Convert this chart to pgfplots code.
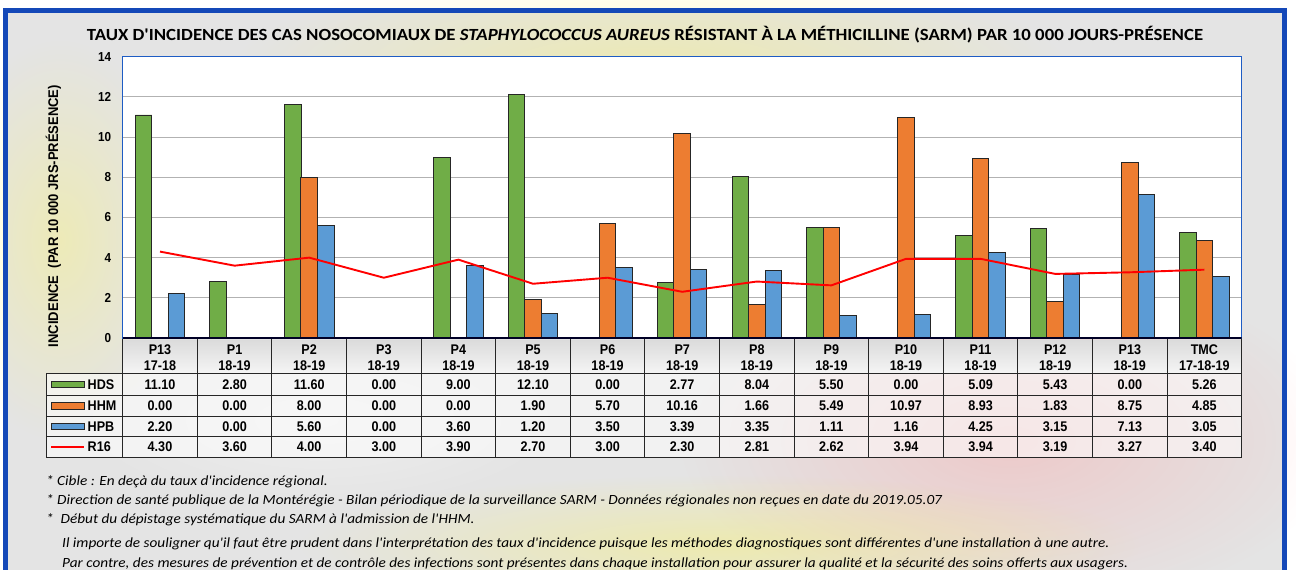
\documentclass[border=0pt]{standalone}
\usepackage{pgfplots}
\pgfplotsset{compat=1.18}
\usepackage{pgfplotstable}
\usepackage{graphicx}
\usepackage{fontspec}
\setmainfont{Liberation Sans}
\newfontfamily\narrow[FakeStretch=0.9]{Liberation Sans}
\newfontfamily\calfont{Carlito}
\newfontfamily\footfont[FakeStretch=1.09]{Carlito}
\usetikzlibrary{fadings}
\tikzfading[name=glow, inner color=transparent!0, outer color=transparent!100]

\definecolor{cgreen}{HTML}{70AD47}
\definecolor{corange}{HTML}{ED7D31}
\definecolor{cblue}{HTML}{5B9BD5}
\definecolor{frameblue}{HTML}{1448B8}
\definecolor{plotblue}{HTML}{1E5CC4}
\definecolor{bgc}{HTML}{E4E4E4}

\pgfplotstableread{
x cat yr HDS HHM HPB R16
0 P13 17-18 11.10 0.00 2.20 4.30
1 P1 18-19 2.80 0.00 0.00 3.60
2 P2 18-19 11.60 8.00 5.60 4.00
3 P3 18-19 0.00 0.00 0.00 3.00
4 P4 18-19 9.00 0.00 3.60 3.90
5 P5 18-19 12.10 1.90 1.20 2.70
6 P6 18-19 0.00 5.70 3.50 3.00
7 P7 18-19 2.77 10.16 3.39 2.30
8 P8 18-19 8.04 1.66 3.35 2.81
9 P9 18-19 5.50 5.49 1.11 2.62
10 P10 18-19 0.00 10.97 1.16 3.94
11 P11 18-19 5.09 8.93 4.25 3.94
12 P12 18-19 5.43 1.83 3.15 3.19
13 P13 18-19 0.00 8.75 7.13 3.27
14 TMC 17-18-19 5.26 4.85 3.05 3.40
}\sarmdata

\begin{document}
\begin{tikzpicture}
\path[use as bounding box] (0,0) rectangle (1296pt,-570pt);
\begin{scope}[x=1pt,y=-1pt]
\clip (0,0) rectangle (1296,570);
\fill[white] (0,0) rectangle (1296,570);
\fill[bgc] (5.8,10.8) rectangle (1284.7,580);
% glows
\fill[yellow!70!white, fill opacity=0.35, path fading=glow] (650,75) ellipse (420 and 110);
\fill[yellow!60!white, fill opacity=0.35, path fading=glow] (60,240) ellipse (120 and 200);
\fill[red!40!white, fill opacity=0.35, path fading=glow] (1010,440) ellipse (330 and 170);
\fill[yellow!70!white, fill opacity=0.35, path fading=glow] (720,545) ellipse (420 and 70);
\fill[white, fill opacity=0.4, path fading=glow] (320,420) ellipse (250 and 90);
% title
\node[anchor=base] at (645,40) {\resizebox{1116pt}{\height}{\calfont\bfseries\fontsize{17}{17}\selectfont TAUX D'INCIDENCE DES CAS NOSOCOMIAUX DE \textit{STAPHYLOCOCCUS AUREUS} RÉSISTANT À LA MÉTHICILLINE (SARM) PAR 10 000 JOURS-PRÉSENCE}};
% y label
\node[rotate=90] at (53.3,216) {\resizebox{262pt}{\height}{\bfseries\fontsize{14}{14}\selectfont INCIDENCE\ \ (PAR 10 000 JRS-PRÉSENCE)}};
\end{scope}

\begin{axis}[
  at={(122.7pt,-338pt)}, anchor=south west,
  width=1119pt, height=281.3pt, scale only axis,
  xmin=-0.5, xmax=14.5, ymin=0, ymax=14,
  ytick={0,2,...,14}, xtick=\empty,
  ymajorgrids, grid style={gray!60, line width=0.9pt},
  axis background/.style={fill=white},
  axis line style={plotblue, line width=1.4pt},
  major tick length=0pt,
  yticklabel style={font=\narrow\bfseries\fontsize{13}{13}\selectfont, xshift=-8pt},
  /pgf/number format/assume math mode=true,
]
\addplot[ybar, bar width=16.5pt, bar shift=-16.5pt, fill=cgreen, draw=black!85, line width=0.9pt] table[x=x, y=HDS]{\sarmdata};
\addplot[ybar, bar width=16.5pt, bar shift=0pt, fill=corange, draw=black!85, line width=0.9pt] table[x=x, y=HHM]{\sarmdata};
\addplot[ybar, bar width=16.5pt, bar shift=16.5pt, fill=cblue, draw=black!85, line width=0.9pt] table[x=x, y=HPB]{\sarmdata};
\addplot[red, line width=1.9pt, sharp plot, no marks] table[x=x, y=R16]{\sarmdata};
\draw[black!85!blue, line width=1.4pt] (axis cs:-0.5,0) -- (axis cs:14.5,0);
\end{axis}

\begin{scope}[x=1pt,y=-1pt]
\clip (0,0) rectangle (1296,570);
% data table
\foreach \i in {0,...,14}{
  \pgfmathsetmacro\xl{122.7+74.6*\i}
  \pgfmathsetmacro\xr{\xl+74.6}
  \pgfmathsetmacro\xc{\xl+37.3}
  \shade[top color=gray!28, bottom color=gray!8] (\xl,340) rectangle (\xr,373.3);
  \fill[white, fill opacity=0.55] (\xl,373.3) rectangle (\xr,457.3);
  \pgfplotstablegetelem{\i}{cat}\of\sarmdata \let\catname\pgfplotsretval
  \pgfplotstablegetelem{\i}{yr}\of\sarmdata \let\yrname\pgfplotsretval
  \node[align=center, font=\narrow\bfseries\fontsize{14}{15.7}\selectfont, inner sep=0pt] at (\xc,357.5) {\catname\\\yrname};
  \foreach \col/\yy in {HDS/384.3, HHM/405.8, HPB/426.5, R16/447}{
    \pgfplotstablegetelem{\i}{\col}\of\sarmdata \let\val\pgfplotsretval
    \node[font=\narrow\bfseries\fontsize{14}{14}\selectfont, inner sep=0pt] at (\xc,\yy) {\val};
  }
}
\fill[white, fill opacity=0.55] (46,373.3) rectangle (122.7,457.3);
% grid lines
\foreach \yy in {373.3,395.3,416.3,436.7,457.3}{
  \draw[black!85, line width=1pt] (46,\yy) -- (1241.7,\yy);
}
\draw[black!85, line width=1pt] (46,373.3) -- (46,457.3);
\foreach \i in {0,...,15}{
  \pgfmathsetmacro\xl{122.7+74.6*\i}
  \draw[black!85, line width=1pt] (\xl,339) -- (\xl,457.3);
}
% legend column
\foreach \col/\c/\yy in {HDS/cgreen/384.3, HHM/corange/405.8, HPB/cblue/426.5}{
  \draw[fill=\c, draw=black!85, line width=0.8pt] (51,\yy-3.2) rectangle (84,\yy+3.2);
  \node[anchor=west, font=\narrow\bfseries\fontsize{14}{14}\selectfont, inner sep=0pt] at (87.5,\yy) {\col};
}
\draw[red, line width=1.6pt] (51,447) -- (84,447);
\node[anchor=west, font=\narrow\bfseries\fontsize{14}{14}\selectfont, inner sep=0pt] at (87.5,447) {R16};
% footnotes
\begin{scope}[every node/.style={anchor=base west, inner sep=0pt, font=\footfont\itshape\fontsize{14}{14}\selectfont}]
\node at (46,485) {* Cible : En deçà du taux d'incidence régional.};
\node at (46,504) {* Direction de santé publique de la Montérégie - Bilan périodique de la surveillance SARM - Données régionales non reçues en date du 2019.05.07};
\node at (46,523.3) {*\ \ Début du dépistage systématique du SARM à l'admission de l'HHM.};
\node at (62,547) {Il importe de souligner qu'il faut être prudent dans l'interprétation des taux d'incidence puisque les méthodes diagnostiques sont différentes d'une installation à une autre.};
\node at (62,567) {Par contre, des mesures de prévention et de contrôle des infections sont présentes dans chaque installation pour assurer la qualité et la sécurité des soins offerts aux usagers.};
\end{scope}
% frame
\draw[frameblue, line width=5pt] (5.8,600) -- (5.8,10.8) -- (1284.7,10.8) -- (1284.7,600);
\end{scope}
\end{tikzpicture}
\end{document}
